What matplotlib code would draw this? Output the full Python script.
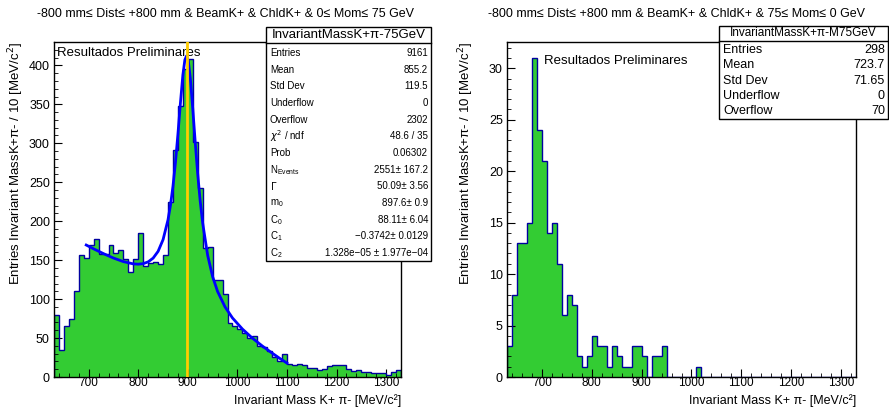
import numpy as np
import matplotlib
matplotlib.use("Agg")
import matplotlib.pyplot as plt
from matplotlib.patches import Rectangle
from matplotlib.ticker import MultipleLocator

plt.rcParams['font.family'] = ['Liberation Sans', 'DejaVu Sans']

# -----------------------------
# Data
# -----------------------------
bin_edges = np.arange(630, 1331, 10)

# 0 <= Mom <= 75 GeV, counts per 10 MeV bin (630 ... 1320)
counts_0_75 = [80, 35, 65, 74, 110, 157, 153, 169, 177, 158,
               158, 169, 159, 163, 152, 135, 152, 185, 143, 146,
               147, 145, 157, 225, 291, 348, 395, 408, 302, 243,
               165, 167, 124, 124, 106, 69, 65, 62, 57, 50,
               52, 40, 38, 33, 26, 21, 30, 17, 16, 17,
               16, 11, 12, 9, 10, 14, 15, 16, 15, 10,
               8, 9, 7, 6, 5, 5, 5, 2, 6, 9]

# 75 <= Mom <= 0 GeV
counts_m75 = [3, 8, 13, 13, 15, 31, 24, 21, 14, 15,
              11, 6, 8, 7, 2, 1, 2, 4, 3, 3,
              1, 3, 2, 1, 1, 3, 3, 2, 0, 2,
              2, 3, 0, 0, 0, 0, 0, 0, 1, 0,
              0, 0, 0, 0, 0, 0, 0, 0, 0, 0,
              0, 0, 0, 0, 0, 0, 0, 0, 0, 0,
              0, 0, 0, 0, 0, 0, 0, 0, 0, 0]

# fitted curve (Breit-Wigner + background)
fit_x = [695, 710, 730, 750, 770, 790, 800, 810, 820, 830, 840, 850, 860, 865,
         870, 875, 880, 885, 890, 894, 897.6, 901, 905, 910, 915, 920, 925, 930,
         940, 950, 960, 975, 990, 1010, 1030, 1050, 1070, 1085, 1100]
fit_y = [169.4, 164.5, 158.3, 152.7, 148.1, 145.2, 144.8, 145.5, 147.8, 152.6,
         161.3, 176.3, 201.8, 220.7, 244.9, 275.3, 311.7, 351.5, 387.8, 407.1,
         412.3, 405.2, 383.5, 343.8, 300.3, 259.9, 225.4, 197.3, 156.1, 128.8,
         109.8, 90.0, 75.8, 61.6, 50.0, 39.9, 30.7, 24.1, 17.8]
m0 = 897.6

stats_labels_0_75 = ["Entries", "Mean", "Std Dev", "Underflow", "Overflow",
                     r"$\chi^{2}$ / ndf", "Prob", r"N$_{\mathregular{Events}}$",
                     r"$\Gamma$", r"m$_{\mathregular{0}}$", r"C$_{\mathregular{0}}$",
                     r"C$_{\mathregular{1}}$", r"C$_{\mathregular{2}}$"]
stats_values_0_75 = ["9161", "855.2", "119.5", "0", "2302", "48.6 / 35", "0.06302",
                     "2551± 167.2", "50.09± 3.56", "897.6± 0.9", "88.11± 6.04",
                     "\u22120.3742± 0.0129", "1.328e\u221205 ± 1.977e\u221204"]

stats_labels_m75 = ["Entries", "Mean", "Std Dev", "Underflow", "Overflow"]
stats_values_m75 = ["298", "723.7", "71.65", "0", "70"]

W, H = 889, 407
GREEN = "#33cc33"
NAVY = "#0000a0"


def px(x, y):
    return x / W, 1 - y / H


def axes_px(fig, x0, y0, x1, y1):
    return fig.add_axes([x0 / W, 1 - y1 / H, (x1 - x0) / W, (y1 - y0) / H])


def style_axes(ax, ymax, ymajor, yminor):
    ax.set_xlim(630, 1330)
    ax.set_ylim(0, ymax)
    ax.xaxis.set_major_locator(MultipleLocator(100))
    ax.xaxis.set_minor_locator(MultipleLocator(20))
    ax.yaxis.set_major_locator(MultipleLocator(ymajor))
    ax.yaxis.set_minor_locator(MultipleLocator(yminor))
    ax.tick_params(which="both", direction="in", top=False, right=False,
                   labelsize=9, pad=3)
    ax.tick_params(axis="x", labelsize=8.5, pad=0)
    ax.tick_params(which="major", length=6)
    ax.tick_params(which="minor", length=3)
    for s in ax.spines.values():
        s.set_linewidth(1.0)


def stats_box(fig, x0, x1, ytop, ysep, ybot, title, title_fs, labels, values, rows_y, fs):
    fig.patches.append(Rectangle(px(x0, ybot), (x1 - x0) / W, (ybot - ytop) / H,
                                 transform=fig.transFigure, facecolor="white",
                                 edgecolor="black", lw=1.0, zorder=5))
    fig.lines.append(plt.Line2D([x0 / W, x1 / W], [1 - ysep / H] * 2,
                                transform=fig.transFigure, color="black", lw=1.0, zorder=6))
    fig.text(*px((x0 + x1) / 2, (ytop + ysep) / 2), title, ha="center", va="center",
             fontsize=title_fs, zorder=7)
    for lab, val, y in zip(labels, values, rows_y):
        fig.text(*px(x0 + 4, y), lab, ha="left", va="center", fontsize=fs, zorder=7)
        fig.text(*px(x1 - 3, y), val, ha="right", va="center", fontsize=fs, zorder=7)


fig = plt.figure(figsize=(W / 100, H / 100), dpi=100)

# -----------------------------
# Left panel
# -----------------------------
ax1 = axes_px(fig, 54, 42, 401, 377)
ax1.stairs(counts_0_75, bin_edges, fill=True, color=GREEN, zorder=1)
ax1.stairs(counts_0_75, bin_edges, color=NAVY, lw=1.0, zorder=2)
ax1.plot(fit_x, fit_y, color="#0000ff", lw=2, zorder=3)
ax1.axvline(m0, color="#ffcc00", lw=2, zorder=4)
style_axes(ax1, 430, 50, 10)
ax1.text(0.01, 0.985, "Resultados Preliminares", transform=ax1.transAxes,
         ha="left", va="top", fontsize=9.5)

fig.text(*px(225, 14), "-800 mm\u2264 Dist\u2264 +800 mm & BeamK+ & ChldK+ & 0\u2264 Mom\u2264 75 GeV",
         ha="center", va="center", fontsize=9)
fig.text(*px(16, 42), "Entries Invariant MassK+\u03c0- / 10 [MeV/c$^{2}$]",
         rotation=90, ha="center", va="top", fontsize=9.5)
fig.text(*px(401, 407), "Invariant Mass K+ \u03c0- [MeV/c\u00b2]",
         ha="right", va="bottom", fontsize=9)

rows_left = [53 + 16.67 * i for i in range(13)]
stats_box(fig, 266, 431, 27, 43, 261, "InvariantMassK+\u03c0-75GeV", 9.5,
          stats_labels_0_75, stats_values_0_75, rows_left, 7)

# -----------------------------
# Right panel
# -----------------------------
ax2 = axes_px(fig, 507, 42, 856, 377)
ax2.stairs(counts_m75, bin_edges, fill=True, color=GREEN, zorder=1)
ax2.stairs(counts_m75, bin_edges, color=NAVY, lw=1.0, zorder=2)
style_axes(ax2, 32.55, 5, 1)
ax2.text(0.105, 0.96, "Resultados Preliminares", transform=ax2.transAxes,
         ha="left", va="top", fontsize=9.5)

fig.text(*px(676, 14), "-800 mm\u2264 Dist\u2264 +800 mm & BeamK+ & ChldK+ & 75\u2264 Mom\u2264 0 GeV",
         ha="center", va="center", fontsize=9)
fig.text(*px(466, 42), "Entries Invariant MassK+\u03c0- / 10 [MeV/c$^{2}$]",
         rotation=90, ha="center", va="top", fontsize=9.5)
fig.text(*px(856, 407), "Invariant Mass K+ \u03c0- [MeV/c\u00b2]",
         ha="right", va="bottom", fontsize=9)

rows_right = [50 + 15.25 * i for i in range(5)]
stats_box(fig, 719, 888, 26, 41, 119, "InvariantMassK+\u03c0-M75GeV", 8.5,
          stats_labels_m75, stats_values_m75, rows_right, 9)

fig.savefig("out.png", dpi=100)
